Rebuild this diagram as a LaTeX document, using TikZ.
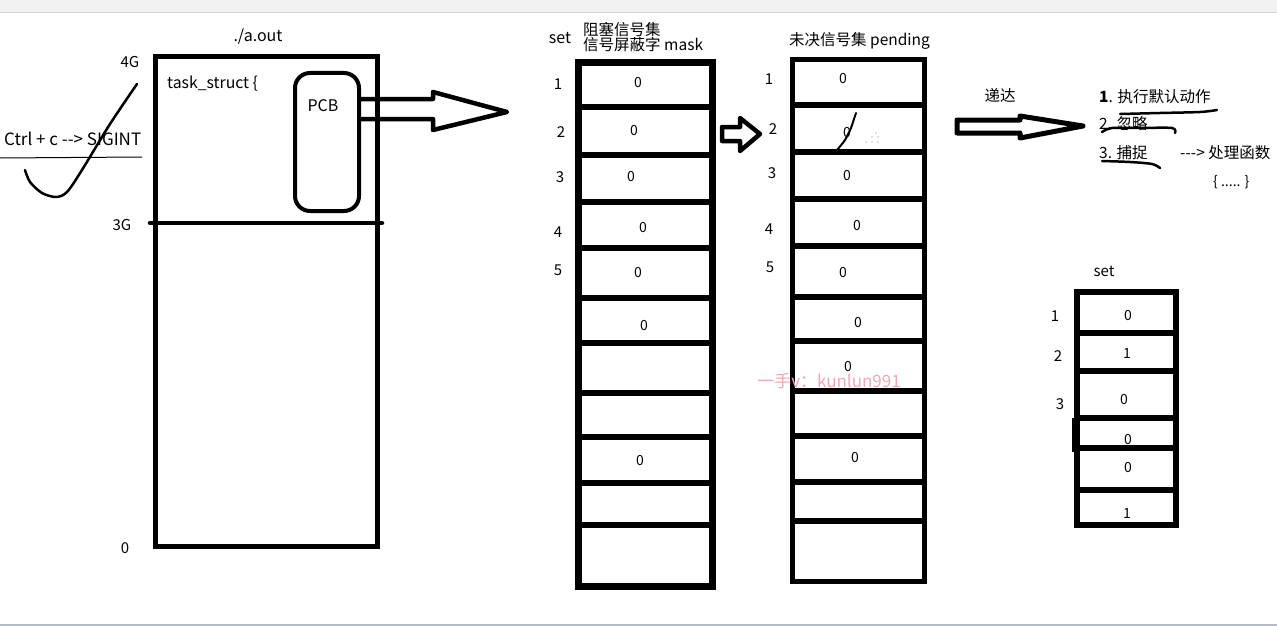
\documentclass[tikz,border=0pt]{standalone}
\usepackage{fontspec}
\setmainfont{Noto Sans CJK SC}
\definecolor{wm}{RGB}{240,168,182}
\definecolor{barline}{RGB}{176,188,200}
\begin{document}
\begin{tikzpicture}[x=1pt,y=-1pt,
  cell/.style={draw, line width=5.5pt, inner sep=0pt, outer sep=0pt, anchor=north west},
  txt/.style={inner sep=0pt, font=\fontsize{14}{16}\selectfont},
  lat/.style={inner sep=0pt, font=\fontsize{16}{18}\selectfont},
  big/.style={inner sep=0pt, font=\fontsize{15.5}{16}\selectfont},
  hand/.style={line width=2.5pt, line cap=round, line join=round},
  fat/.style={line width=4.5pt, line join=round}]
\useasboundingbox (0,0) rectangle (1277,626);
\fill[white] (0,0) rectangle (1277,626);
% top toolbar strip and bottom edge
\fill[gray!10] (0,0) rectangle (1277,12);
\draw[gray!35, line width=1pt] (0,12.5) -- (1277,12.5);
\draw[barline, line width=2pt] (0,625) -- (1277,625);

% ---------- process box ----------
\node[lat] (aout) at (258,37) {./a.out};
\node[cell, line width=5pt, minimum width=222pt, minimum height=489pt] (proc) at (155,57) {};
\node[lat, font=\fontsize{15}{16}\selectfont] (g4) at (130,62) {4G};
\node[lat, font=\fontsize{15}{16}\selectfont] (g3) at (122,225) {3G};
\node[lat, font=\fontsize{15}{16}\selectfont] (g0) at (125,548) {0};
\coordinate (l3a) at (150,223);
\coordinate (l3b) at (382,223);
\draw[line width=4.5pt, line cap=round] (l3a) -- (l3b);
\node[lat, font=\fontsize{15.8}{18}\selectfont, anchor=west] (task) at (167,84) {task\_struct \{};
\node[draw, line width=4pt, rounded corners=15pt, outer sep=0pt, minimum width=64pt, minimum height=138pt, anchor=north west] (pcb) at (295,73) {};
\node[lat] (pcbt) at (323,106) {PCB};

% big arrow PCB -> mask
\draw[fat] (pcb.east |- 0,99) -- (433,99) -- (433,92) -- (507,112) -- (433,130) -- (433,119) -- (pcb.east |- 0,119);

% Ctrl + c
\node[lat, font=\fontsize{17}{18}\selectfont, anchor=west] (ctrl) at (4,139) {Ctrl + c -{}-{}> SIGINT};
\coordinate (ul1) at (0,158);
\coordinate (ul2) at (142,157);
\draw[line width=1pt] (ul1) -- (ul2);
\draw[hand] plot[smooth, tension=0.5] coordinates {(25,170) (30,182) (42,193) (56,197) (67,192) (82,170) (110,124) (137,84)};

% ---------- mask column ----------
\node[lat] (setm) at (560,38) {set};
\node[big, anchor=west] (zs) at (583,30) {阻塞信号集};
\node[big, anchor=west] (mk) at (583,45) {信号屏蔽字 mask};
\node[cell, line width=6.5pt, minimum width=134pt, minimum height=524pt] (mask) at (578.5,62.5) {};
\foreach \y in {107,155,202,248,298,343,393,437,483,525}
  \draw[line width=6pt] (mask.west |- 0,\y) -- (mask.east |- 0,\y);
\foreach \x/\y/\n in {638/83/m1,634/131/m2,631/177/m3,643/228/m4,638/273/m5,644/326/m6,640/461/m9}
  \node[txt] (\n) at (\x,\y) {0};
\foreach \x/\y/\t in {558/84/1,561/132/2,560/177/3,558/232/4,558/270/5}
  \node[lat, font=\fontsize{15}{16}\selectfont] (ml\t) at (\x,\y) {\t};

% small arrow mask -> pending
\draw[line width=4.5pt, line join=round] (722,127) -- (740,127) -- (740,118) -- (760,134) -- (740,151) -- (740,141) -- (722,141) -- cycle;

% ---------- pending column ----------
\node[big, anchor=west] (pend) at (789,41) {未决信号集 pending};
\node[cell, line width=5.5pt, minimum width=132pt, minimum height=522pt] (pnd) at (792.5,59.5) {};
\foreach \y in {105,152,199,246,297,341,391,436,482,521}
  \draw[line width=5.5pt] (pnd.west |- 0,\y) -- (pnd.east |- 0,\y);
\foreach \x/\y/\n in {843/79/p1,847/133/p2,847/176/p3,857/226/p4,843/273/p5,858/323/p6,848/367/p7,855/458/p9}
  \node[txt] (\n) at (\x,\y) {0};
\foreach \x/\y/\t in {769/79/1,773/129/2,772/173/3,769/229/4,770/267/5}
  \node[lat, font=\fontsize{15}{16}\selectfont] (pl\t) at (\x,\y) {\t};
\draw[hand, line width=2pt] plot[smooth] coordinates {(837,150) (845,140) (851,128) (854,119) (856,113)};
\foreach \x/\y in {866/142,872/142,878/142,872/137,878/137,876/133}
  \fill[gray] (\x,\y) circle (0.6pt);

% watermark
\node[inner sep=0pt, text=wm, font=\fontsize{17}{18}\selectfont] (wmark) at (829,381) {一手v：kunlun991};

% ---------- delivery ----------
\node[big] (dd) at (1000,95) {递达};
\draw[line width=5pt, line join=round] (957,120) -- (1020,120) -- (1020,116) -- (1083,126) -- (1020,138) -- (1020,133) -- (957,133) -- cycle;
\node[big, anchor=west] (o1) at (1099,97) {\textbf{1}. 执行默认动作};
\node[big, anchor=west] (o2) at (1099,124) {2. 忽略};
\node[big, anchor=west] (o3) at (1099,153) {3. 捕捉};
\node[big, anchor=west] (o4) at (1180,153) {-{}-{}-{}> 处理函数};
\node[txt, anchor=west] (o5) at (1213,182) {\{ ..... \}};
\draw[hand] plot[smooth] coordinates {(1120,114) (1160,113) (1200,112) (1217,110)};
\draw[hand] plot[smooth] coordinates {(1102,132) (1112,128) (1140,128) (1172,128) (1175,133)};
\draw[hand] plot[smooth] coordinates {(1102,161) (1130,162) (1152,164) (1160,168)};

% ---------- small set table ----------
\node[lat, font=\fontsize{15}{16}\selectfont] (sets) at (1104,271) {set};
\node[cell, line width=6pt, minimum width=99pt, minimum height=233pt] (tab) at (1076.5,292) {};
\foreach \y in {333,371,418,448,490}
  \draw[line width=6pt] (tab.west |- 0,\y) -- (tab.east |- 0,\y);
\draw[line width=6pt] (1075,418) -- (1075,452);
\foreach \x/\y/\v/\n in {1128/316/0/s1,1127/354/1/s2,1124/400/0/s3,1128/440/0/s4,1128/468/0/s5,1127/514/1/s6}
  \node[txt] (\n) at (\x,\y) {\v};
\foreach \x/\y/\t in {1055/316/1,1058/356/2,1060/404/3}
  \node[lat, font=\fontsize{15}{16}\selectfont] (sl\t) at (\x,\y) {\t};
\end{tikzpicture}
\end{document}
